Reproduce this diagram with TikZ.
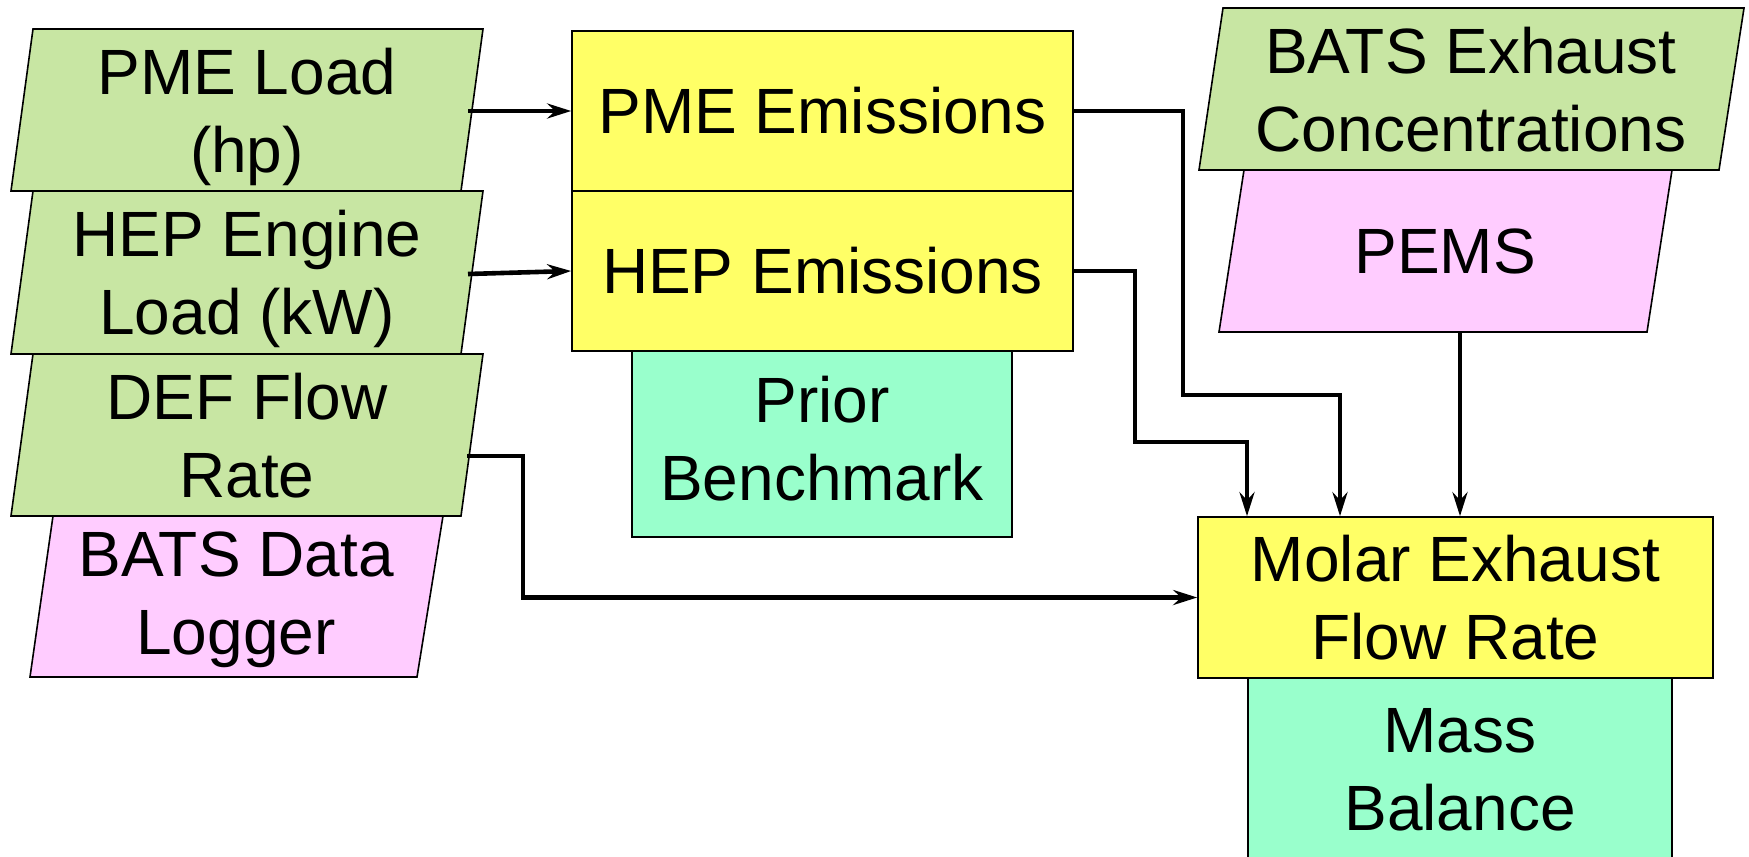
\documentclass[tikz,border=0pt]{standalone}
\usepackage{fontspec}
\setmainfont{Liberation Sans}
\usetikzlibrary{arrows.meta}
\definecolor{cgreen}{RGB}{200,230,163}
\definecolor{cpink}{RGB}{255,204,255}
\definecolor{cyellow}{RGB}{255,255,102}
\definecolor{cmint}{RGB}{153,255,204}
\begin{document}
\begin{tikzpicture}[x=0.5pt,y=-0.5pt,
  txt/.style={align=center, font=\fontsize{32pt}{39pt}\selectfont, inner sep=0pt},
  outl/.style={draw=black, line width=0.8pt},
  boxnode/.style={outl, rectangle, txt},
  conn/.style={line width=2.3pt, -{Stealth[length=12pt,width=7.5pt,inset=4pt]}},
]
\clip (0,0) rectangle (1749,856);
\fill[white] (0,0) rectangle (1749,856);

% left column parallelograms
\filldraw[outl, fill=cgreen] (33,29) -- (483,29) -- (461,191) -- (11,191) -- cycle;
\filldraw[outl, fill=cgreen] (33,191) -- (483,191) -- (461,354) -- (11,354) -- cycle;
\filldraw[outl, fill=cpink] (53,516) -- (443,516) -- (417,677) -- (30,677) -- cycle;
\filldraw[outl, fill=cgreen] (33,354) -- (483,354) -- (461,516) -- (11,516) -- cycle;
\node[txt] (pmeload) at (247,117) {PME Load\\(hp)};
\node[txt] (hepload) at (247,279) {HEP Engine\\Load (kW)};
\node[txt] (defrate) at (247,436) {DEF Flow\\Rate};
\node[txt] (logger) at (236,600) {BATS Data\\Logger};

% middle column
\node[boxnode, fill=cyellow, minimum width=250.5pt, minimum height=80pt] (pmeem) at (822.5,111) {PME Emissions};
\node[boxnode, fill=cyellow, minimum width=250.5pt, minimum height=80pt] (hepem) at (822.5,271) {HEP Emissions};
\node[boxnode, fill=cmint, minimum width=190pt, minimum height=93pt] (prior) at (822,444) {Prior\\Benchmark\rule[-6pt]{0pt}{6pt}};

% right column
\filldraw[outl, fill=cpink] (1244,170) -- (1672,170) -- (1647,332) -- (1219,332) -- cycle;
\filldraw[outl, fill=cgreen] (1223,8) -- (1744,8) -- (1719,170) -- (1199,170) -- cycle;
\node[txt] (batsex) at (1471,90) {BATS Exhaust\\Concentrations};
\node[txt] (pems) at (1445,251) {PEMS};

\node[boxnode, fill=cmint, minimum width=212pt, minimum height=92pt] (mass) at (1460,770) {Mass\\Balance};
\node[boxnode, fill=cyellow, minimum width=257.5pt, minimum height=80.5pt] (molar) at (1455.5,597.5) {Molar Exhaust\\Flow Rate};

% connectors
\coordinate (pmeloadR) at (468,111);
\coordinate (heploadR) at (468,274);
\coordinate (defrateR) at (467,456);
\coordinate (pemsB) at (1460,332);
\draw[conn] (pmeloadR) -- (pmeem.west);
\draw[conn] (heploadR) -- (hepem.west);
\draw[conn] (pmeem.east) -- (1183,111) -- (1183,395) -- (1340,395) -- (1340,0 |- molar.north);
\draw[conn] (hepem.east) -- (1135,271) -- (1135,442) -- (1247,442) -- (1247,0 |- molar.north);
\draw[conn] (pemsB) -- (1460,0 |- molar.north);
\draw[conn] (defrateR) -- (523,456) -- (523,597.5) -- (molar.west);
\end{tikzpicture}
\end{document}
